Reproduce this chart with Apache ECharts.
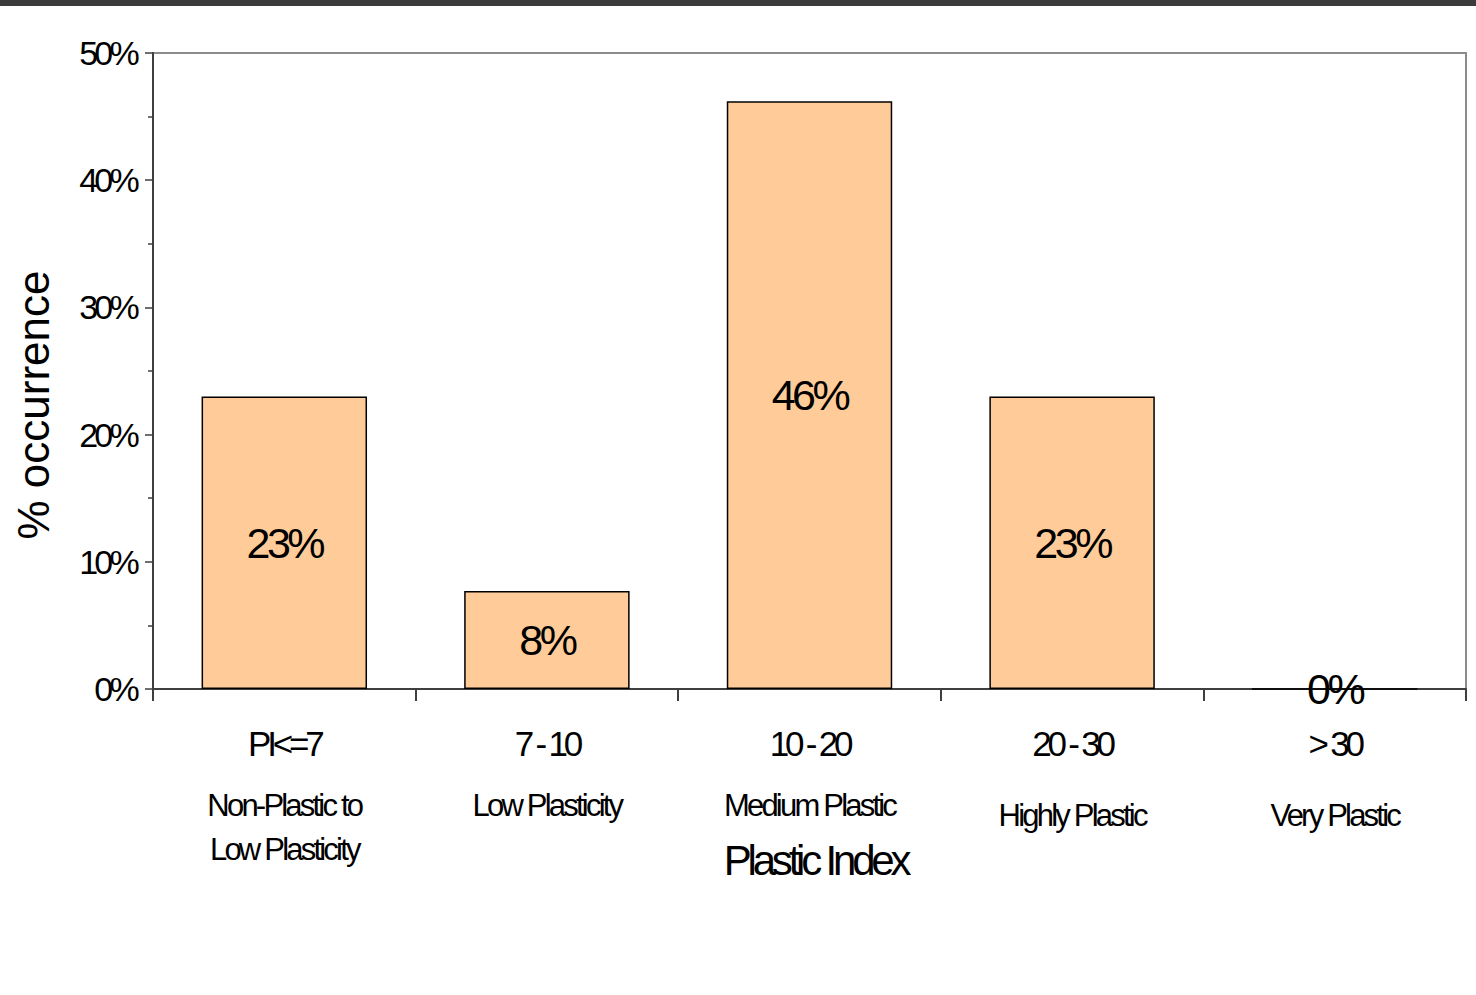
<!DOCTYPE html>
<html>
<head>
<meta charset="utf-8">
<script src="https://cdn.jsdelivr.net/npm/echarts@6/dist/echarts.min.js"></script>
<style>
  html, body { margin: 0; padding: 0; background: #fff; }
  #chart { width: 1476px; height: 995px; }
  #chart text { letter-spacing: -0.1em; }
  #chart text[style*="34px"] { letter-spacing: -0.11em; }
  #chart text[style*="35px"] { letter-spacing: -0.12em; }
  #chart text[style*="31px"] { letter-spacing: -0.09em; }
  #chart text[style*="42px"] { letter-spacing: -0.1em; }
  #chart text[style*="43px"] { letter-spacing: -0.08em; }
  #chart text[style*="44px"] { letter-spacing: 0; }
</style>
</head>
<body>
<div id="chart"></div>
<script>
// ---- data ----
const categories = ['PI<=7', '7 - 10', '10 - 20', '20 - 30', '> 30'];
const descriptions = [
  ['Non-Plastic to', 'Low Plasticity'],
  ['Low Plasticity'],
  ['Medium Plastic'],
  ['Highly Plastic'],
  ['Very Plastic']
];
const occurrence = [23.0, 7.7, 46.2, 23.0, 0];
const yTicks = [0, 10, 20, 30, 40, 50];
const xAxisTitle = 'Plastic Index';
const yAxisTitle = '% occurrence';

const chart = echarts.init(document.getElementById('chart'), null, { renderer: 'svg' });

const FONT = 'Arial, "Liberation Sans", sans-serif';
const axisDark = '#3f3f3f';

const option = {
  animation: false,
  backgroundColor: '#ffffff',
  graphic: [{
    type: 'rect',
    left: 0, top: 0,
    shape: { width: 1476, height: 6 },
    style: { fill: '#3b3b3b' },
    z: 100
  }],
  grid: {
    left: 153, right: 10, top: 53, bottom: 306,
    show: true,
    borderColor: '#8c8c8c',
    borderWidth: 2,
    backgroundColor: 'transparent'
  },
  xAxis: {
    type: 'category',
    data: categories,
    name: xAxisTitle,
    nameLocation: 'middle',
    nameGap: 150,
    nameMoveOverlap: false,
    nameTextStyle: { fontFamily: FONT, fontSize: 42, color: '#000', padding: [0, 0, 0, 12] },
    axisLine: { show: true, lineStyle: { color: axisDark, width: 2 } },
    axisTick: { show: true, alignWithLabel: false, length: 12, lineStyle: { color: axisDark, width: 2 } },
    splitLine: { show: false },
    axisLabel: {
      interval: 0,
      margin: 14,
      fontFamily: FONT,
      color: '#000',
      formatter: function (value, index) {
        const d = descriptions[index];
        const st = index < 3 ? 'b' : 'c';
        let s = '{a|' + value + '}\n{' + st + '|' + d[0] + '}';
        for (let i = 1; i < d.length; i++) s += '\n{b|' + d[i] + '}';
        return s;
      },
      rich: {
        a: { fontFamily: FONT, fontSize: 35, lineHeight: 80, color: '#000' },
        b: { fontFamily: FONT, fontSize: 31, lineHeight: 44, color: '#000' },
        c: { fontFamily: FONT, fontSize: 31, lineHeight: 64, color: '#000' }
      }
    }
  },
  yAxis: {
    type: 'value',
    min: yTicks[0],
    max: yTicks[yTicks.length - 1],
    interval: 10,
    name: yAxisTitle,
    nameLocation: 'middle',
    nameGap: 98,
    nameRotate: 90,
    nameMoveOverlap: false,
    nameTextStyle: { fontFamily: FONT, fontSize: 44, color: '#000', padding: [0, 68, 0, 0] },
    axisLine: { show: true, lineStyle: { color: axisDark, width: 2 } },
    axisTick: { show: true, length: 8, lineStyle: { color: axisDark, width: 1.5 } },
    minorTick: { show: true, splitNumber: 2, length: 5, lineStyle: { color: axisDark, width: 1.5 } },
    splitLine: { show: false },
    axisLabel: {
      margin: 17,
      fontFamily: FONT,
      fontSize: 34,
      color: '#000',
      formatter: '{value}%'
    }
  },
  series: [{
    type: 'bar',
    data: occurrence,
    barCategoryGap: '37%',
    itemStyle: { color: '#FFCC99', borderColor: '#000', borderWidth: 1.5 },
    label: {
      show: true,
      position: 'inside',
      fontFamily: FONT,
      fontSize: 43,
      color: '#000',
      formatter: function (p) { return Math.round(p.value) + '%'; }
    },
    z: 2
  }]
};

chart.setOption(option);
</script>
</body>
</html>
